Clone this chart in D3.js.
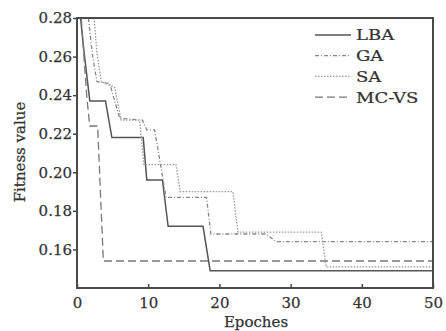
<!DOCTYPE html>
<html>
<head>
<meta charset="utf-8">
<script src="https://cdn.jsdelivr.net/npm/d3@7"></script>
<style>
  body { margin: 0; background: #fff; }
  text { font-family: "DejaVu Serif", serif; fill: #333; stroke: #333; stroke-width: 0.25px; }
</style>
</head>
<body>
<svg id="canvas"></svg>
<script>
// epoch / fitness pairs
const lbaPoints = [[0.5, 0.28], [1.0, 0.262], [1.8, 0.237], [4.0, 0.237], [4.9, 0.218], [9.3, 0.218], [9.8, 0.196],
    [12.0, 0.196], [12.8, 0.172], [17.7, 0.172], [18.7, 0.149], [50, 0.149]];
const gaPoints = [[1.6, 0.28], [2.2, 0.26], [2.8, 0.247], [4.6, 0.246], [6.0, 0.228], [9.2, 0.227], [9.8, 0.222],
    [10.9, 0.222], [12.5, 0.187], [18.2, 0.187], [18.8, 0.168], [26.5, 0.168], [28.0, 0.164], [50, 0.164]];
const saPoints = [[2.4, 0.28], [2.8, 0.262], [3.4, 0.247], [5.3, 0.244], [6.2, 0.227], [8.8, 0.227], [9.4, 0.204],
    [13.9, 0.204], [14.5, 0.19], [21.9, 0.19], [22.6, 0.169], [34.3, 0.169], [35.0, 0.151], [50, 0.151]];
const mcvsPoints = [[0.6, 0.28], [1.4, 0.238], [1.8, 0.224], [2.9, 0.224], [3.7, 0.154], [50, 0.154]];

const seriesNames = ["LBA", "GA", "SA", "MC-VS"];
const xTicks = [0, 10, 20, 30, 40, 50];
const yTicks = [0.16, 0.18, 0.20, 0.22, 0.24, 0.26, 0.28];

const series = [
    { name: seriesNames[0], points: lbaPoints, color: "#555", width: 1.5, dash: null },
    { name: seriesNames[1], points: gaPoints, color: "#888", width: 1.3, dash: "4,2,1,2" },
    { name: seriesNames[2], points: saPoints, color: "#9a9a9a", width: 1.3, dash: "1.5,1.5" },
    { name: seriesNames[3], points: mcvsPoints, color: "#777", width: 1.3, dash: "8,4" }
];

const margins = { top: 18, right: 13, bottom: 43, left: 77 };
const width = 446 - margins.left - margins.right;
const height = 331 - margins.top - margins.bottom;

const root = d3.select("#canvas")
    .attr("width", 446)
    .attr("height", 331);

const svg = root.append("g")
    .attr("transform", "translate(" + margins.left + "," + margins.top + ")");

const x = d3.scaleLinear()
    .domain([0, 50])
    .range([0, width]);

const y = d3.scaleLinear()
    .domain([0.14, 0.28])
    .range([height, 0]);

const xAxis = svg.append("g")
    .attr("transform", "translate(0," + height + ")")
    .call(d3.axisBottom(x).tickValues(xTicks).tickSize(-4).tickPadding(9).tickFormat(d3.format("d")));

const yAxis = svg.append("g")
    .call(d3.axisLeft(y).tickValues(yTicks).tickSize(4).tickPadding(1).tickFormat(d3.format(".2f")));

[xAxis, yAxis].forEach(axis => {
    axis.select(".domain").remove();
    axis.selectAll("line").attr("stroke", "#444").attr("stroke-width", 1.5);
    axis.selectAll("text")
        .style("font-size", "15px")
        .attr("fill", "#333");
});

const line = d3.line()
    .x(d => x(d[0]))
    .y(d => y(d[1]));

svg.append("g")
    .selectAll("path")
    .data(series)
    .enter()
    .append("path")
    .attr("d", d => line(d.points))
    .attr("fill", "none")
    .attr("stroke", d => d.color)
    .attr("stroke-width", d => d.width)
    .attr("stroke-dasharray", d => d.dash);

// frame
svg.append("rect")
    .attr("width", width)
    .attr("height", height)
    .attr("fill", "none")
    .attr("stroke", "#4a4a4a")
    .attr("stroke-width", 2);

// legend
const legend = svg.append("g")
    .attr("transform", "translate(238,17)")
    .selectAll("g")
    .data(series)
    .enter()
    .append("g")
    .attr("transform", (d, i) => "translate(0," + i * 20.7 + ")");

legend.append("line")
    .attr("x1", 0)
    .attr("x2", 36)
    .attr("stroke", d => d.color)
    .attr("stroke-width", d => d.width)
    .attr("stroke-dasharray", d => d.dash);

legend.append("text")
    .attr("transform", "translate(41,0) scale(1.2,1)")
    .attr("dy", "0.36em")
    .style("font-size", "15px")
    .text(d => d.name);

// axis titles
svg.append("text")
    .attr("x", width / 2 + 1)
    .attr("y", height + 39)
    .attr("text-anchor", "middle")
    .style("font-size", "15px")
    .text("Epoches");

svg.append("text")
    .attr("transform", "translate(-52," + (height / 2 - 1) + ") rotate(-90)")
    .attr("text-anchor", "middle")
    .style("font-size", "15px")
    .text("Fitness value");
</script>
</body>
</html>
